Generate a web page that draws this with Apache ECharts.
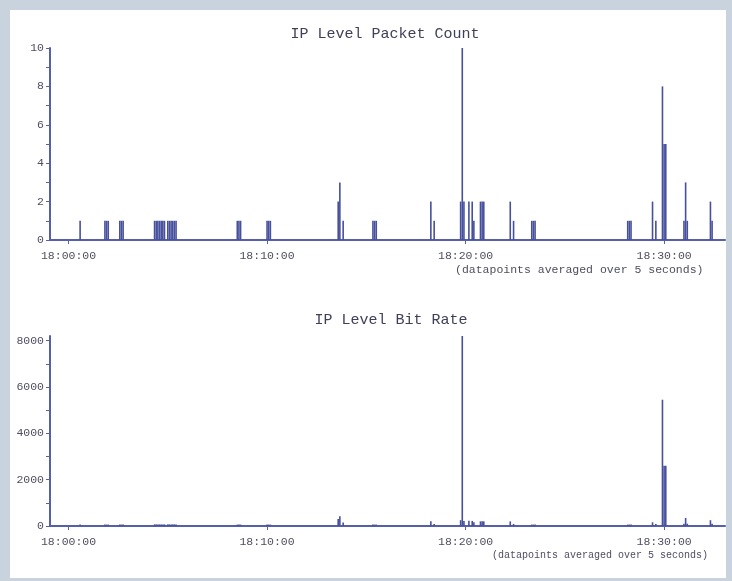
<!DOCTYPE html>
<html>
<head>
<meta charset="utf-8">
<script src="https://cdn.jsdelivr.net/npm/echarts@6/dist/echarts.min.js"></script>
<style>
  html, body { margin: 0; padding: 0; background: #c9d3de; width: 732px; height: 581px; overflow: hidden; }
  #chart { position: absolute; left: 10px; top: 10px; width: 716px; height: 568px; background: #fff; }
</style>
</head>
<body>
<div id="chart"></div>
<script>
// seconds after 18:00:00, one entry per 5-second bin that had traffic
const binSeconds = [
  35,
  110, 115, 120,
  155, 160, 165,
  260, 265, 270, 275, 280, 285, 290,
  300, 305, 310, 315, 320, 325,
  510, 515, 520,
  600, 605, 610,
  815, 820, 830,
  920, 925, 930,
  1095, 1105,
  1185, 1190, 1195,
  1210,
  1220, 1225,
  1245, 1250, 1255,
  1335, 1345,
  1400, 1405, 1410,
  1690, 1695, 1700,
  1765, 1775,
  1795, 1800, 1805,
  1860, 1865, 1870,
  1940, 1945
]

const packetCount = [
  1,
  1, 1, 1,
  1, 1, 1,
  1, 1, 1, 1, 1, 1, 1,
  1, 1, 1, 1, 1, 1,
  1, 1, 1,
  1, 1, 1,
  2, 3, 1,
  1, 1, 1,
  2, 1,
  2, 10, 2,
  2,
  2, 1,
  2, 2, 2,
  2, 1,
  1, 1, 1,
  1, 1, 1,
  2, 1,
  8, 5, 5,
  1, 3, 1,
  2, 1
]

const bitRate = [
  60,
  60, 60, 60,
  60, 60, 60,
  70, 70, 70, 70, 70, 70, 70,
  70, 70, 70, 70, 70, 70,
  60, 60, 60,
  60, 60, 60,
  300, 420, 150,
  60, 60, 60,
  200, 90,
  250, 8200, 220,
  230,
  220, 160,
  200, 200, 200,
  200, 90,
  60, 60, 60,
  60, 60, 60,
  160, 90,
  5450, 2600, 2600,
  100, 350, 100,
  250, 100
]

const timeTicks = [0, 600, 1200, 1800]
const timeLabels = ['18:00:00', '18:10:00', '18:20:00', '18:30:00']
const packetTicks = [0, 1, 2, 3, 4, 5, 6, 7, 8, 9, 10]
const packetLabels = [0, 2, 4, 6, 8, 10]
const bitTicks = [0, 1000, 2000, 3000, 4000, 5000, 6000, 7000, 8000]
const bitLabels = [0, 2000, 4000, 6000, 8000]

const FONT = "'Liberation Mono', 'DejaVu Sans Mono', monospace"
const AXIS_COLOR = '#5660a8'
const BAR_COLOR = '#46509c'
const TEXT_COLOR = '#4e4e60'

const chart = echarts.init(document.getElementById('chart'), null, { renderer: 'canvas' })

const xAxisBase = (gridIndex) => ({
  type: 'value',
  gridIndex,
  min: -56,
  max: 1984,
  splitLine: { show: false },
  axisLine: { onZero: false, lineStyle: { color: AXIS_COLOR, width: 2 } },
  axisTick: { customValues: timeTicks, length: 4, lineStyle: { color: AXIS_COLOR } },
  axisLabel: {
    customValues: timeTicks,
    formatter: (v) => timeLabels[timeTicks.indexOf(v)] || '',
    color: TEXT_COLOR, fontFamily: FONT, fontSize: 11.5, margin: 10,
  },
})

const yAxisBase = (gridIndex, max, ticks, labels) => ({
  type: 'value',
  gridIndex,
  min: 0,
  max,
  splitLine: { show: false },
  axisLine: { show: true, onZero: false, lineStyle: { color: AXIS_COLOR, width: 2 } },
  axisTick: { show: true, customValues: ticks, length: 4, lineStyle: { color: AXIS_COLOR } },
  axisLabel: {
    customValues: labels,
    formatter: (v) => String(v),
    color: TEXT_COLOR, fontFamily: FONT, fontSize: 11.5, margin: 6,
  },
})

const option = {
  animation: false,
  title: [
    {
      text: 'IP Level Packet Count',
      left: 370, top: 12, textAlign: 'center',
      textStyle: { fontFamily: FONT, fontSize: 15, fontWeight: 'normal', color: '#3f3f58' },
    },
    {
      text: 'IP Level Bit Rate',
      left: 376, top: 298, textAlign: 'center',
      textStyle: { fontFamily: FONT, fontSize: 15, fontWeight: 'normal', color: '#3f3f58' },
    },
  ],
  grid: [
    { left: 40, right: 1, top: 38, height: 192 },
    { left: 40, right: 1, top: 326, height: 190 },
  ],
  xAxis: [xAxisBase(0), xAxisBase(1)],
  yAxis: [
    yAxisBase(0, 10, packetTicks, packetLabels),
    yAxisBase(1, 8200, bitTicks, bitLabels),
  ],
  graphic: [
    {
      type: 'text', left: 445, top: 254,
      style: { text: '(datapoints averaged over 5 seconds)', font: `11.5px ${FONT}`, fill: TEXT_COLOR },
    },
    {
      type: 'text', left: 482, top: 540,
      style: { text: '(datapoints averaged over 5 seconds)', font: `10px ${FONT}`, fill: TEXT_COLOR },
    },
  ],
  series: [
    {
      name: 'Packet Count',
      type: 'bar',
      xAxisIndex: 0,
      yAxisIndex: 0,
      barWidth: 1.6,
      itemStyle: { color: BAR_COLOR },
      data: binSeconds.map((s, i) => [s, packetCount[i]]),
    },
    {
      name: 'Bit Rate',
      type: 'bar',
      xAxisIndex: 1,
      yAxisIndex: 1,
      barWidth: 1.6,
      itemStyle: { color: BAR_COLOR },
      data: binSeconds.map((s, i) => [s, bitRate[i]]),
    },
  ],
}

chart.setOption(option)
</script>
</body>
</html>
